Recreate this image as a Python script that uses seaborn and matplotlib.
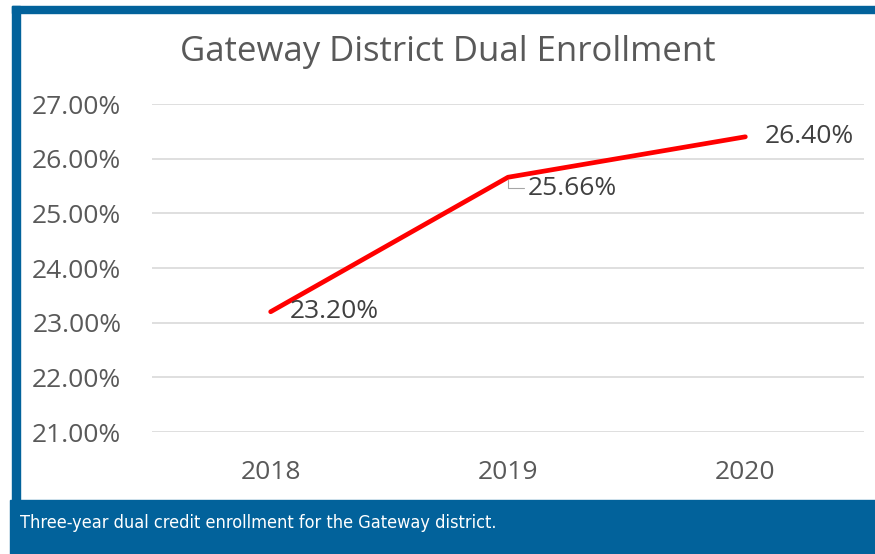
import matplotlib
matplotlib.use("Agg")
import matplotlib.pyplot as plt
from matplotlib.patches import Rectangle
from matplotlib.ticker import FuncFormatter
import pandas as pd
import seaborn as sns

# chart data
years = ["2018", "2019", "2020"]
enrollment = [23.20, 25.66, 26.40]
y_ticks = [21, 22, 23, 24, 25, 26, 27]

title = "Gateway District Dual Enrollment"
caption = "Three-year dual credit enrollment for the Gateway district."

df = pd.DataFrame({"Year": years, "Enrollment": enrollment})

sns.set_theme(style="white")
plt.rcParams["font.family"] = ["Open Sans", "DejaVu Sans"]

frame_blue = "#02629B"
text_gray = "#595959"

fig = plt.figure(figsize=(8.75, 5.54), dpi=100)
fig.patch.set_facecolor("white")

# blue frame around the chart and caption band
W, H = 875, 554
def px_rect(x0, y0, x1, y1):
    return Rectangle((x0 / W, 1 - y1 / H), (x1 - x0) / W, (y1 - y0) / H,
                     transform=fig.transFigure, color=frame_blue, zorder=0)
fig.patches.append(px_rect(12, 6, 875, 13))
fig.patches.append(px_rect(12, 6, 20, 500))
fig.patches.append(px_rect(10, 500, 875, 554))

fig.text(20 / W, 1 - 523 / H, caption, color="white", fontsize=13,
         family="DejaVu Sans", fontstretch="condensed", va="center", ha="left")

fig.text(448 / W, 1 - 52 / H, title, color=text_gray, fontsize=25,
         ha="center", va="center")

ax = fig.add_axes([152 / W, 1 - 432 / H, (864 - 152) / W, (432 - 104) / H])
ax.set_facecolor("white")

sns.lineplot(data=df, x="Year", y="Enrollment", color="#FF0000", linewidth=3.4,
             ax=ax, sort=False)

ax.set_xlim(-0.5, len(years) - 0.5)
ax.set_ylim(21, 27)
ax.set_yticks(y_ticks)
ax.yaxis.set_major_formatter(FuncFormatter(lambda v, p: f"{v:.2f}%"))
ax.grid(axis="y", color="#D9D9D9", linewidth=1.2)
ax.set_axisbelow(True)
for s in ax.spines.values():
    s.set_visible(False)
ax.tick_params(axis="y", length=0, pad=22, labelsize=19, labelcolor=text_gray)
ax.tick_params(axis="x", length=0, pad=20, labelsize=19, labelcolor=text_gray)
ax.set_xlabel("")
ax.set_ylabel("")

# data labels
offsets = [(14, 0), (14, -8), (14, 0)]
for i, (v, off) in enumerate(zip(enrollment, offsets)):
    if off[1] != 0:
        ax.annotate(f"{v:.2f}%", xy=(i, v), xytext=off, textcoords="offset points",
                    fontsize=19, color="#404040", va="center", ha="left",
                    arrowprops=dict(arrowstyle="-", color="#A6A6A6", lw=0.8,
                                    shrinkA=0, shrinkB=2,
                                    connectionstyle="angle,angleA=0,angleB=90,rad=0"))
    else:
        ax.annotate(f"{v:.2f}%", xy=(i, v), xytext=off, textcoords="offset points",
                    fontsize=19, color="#404040", va="center", ha="left")

fig.savefig("out.png", dpi=100, facecolor="white")
